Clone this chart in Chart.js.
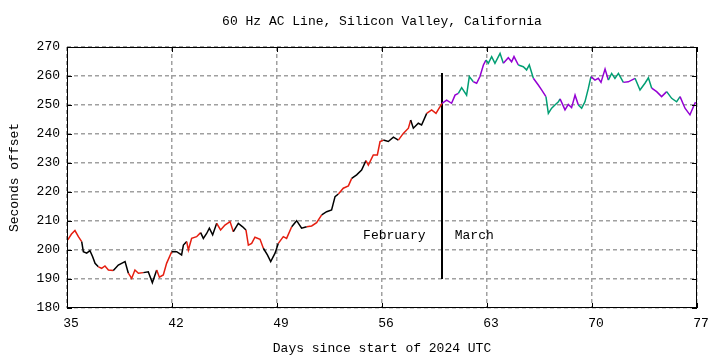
<!DOCTYPE html>
<html>
<head>
<meta charset="utf-8">
<title>60 Hz AC Line</title>
<script src="https://cdn.jsdelivr.net/npm/chart.js@4"></script>
<style>
  html, body { margin: 0; padding: 0; background: #fff; }
</style>
</head>
<body>
<canvas id="mycanvas" width="720" height="360"></canvas>
<script>
// Day of year (UTC) for each reading
var days = [
  35.05, 35.3, 35.53, 35.76, 35.98, 36.09, 36.31, 36.53, 36.71, 36.87,
  37.09, 37.31, 37.53, 37.76, 38.09, 38.42, 38.64, 38.87, 39.09, 39.31,
  39.53, 39.76, 40.09, 40.42, 40.69, 40.98, 41.16, 41.42, 41.64, 41.98,
  42.31, 42.64, 42.76, 42.98, 43.09, 43.31, 43.64, 43.91, 44.09, 44.31,
  44.49, 44.71, 44.98, 45.24, 45.53, 45.87, 46.09, 46.42, 46.71, 46.93,
  47.09, 47.31, 47.53, 47.87, 48.09, 48.36, 48.58, 48.87, 49.09, 49.42,
  49.64, 49.98, 50.31, 50.64, 50.98, 51.31, 51.64, 51.98, 52.31, 52.64,
  52.87, 53.09, 53.42, 53.76, 53.98, 54.31, 54.64, 54.93, 55.09, 55.42,
  55.69, 55.87, 56.09, 56.42, 56.76, 57.09, 57.42, 57.76, 57.91, 58.09,
  58.42, 58.64, 58.98, 59.31, 59.6, 59.87, 60.0, 60.31, 60.64, 60.87,
  61.09, 61.31, 61.64, 61.82, 62.09, 62.31, 62.53, 62.76, 62.93, 63.09,
  63.31, 63.53, 63.87, 64.09, 64.42, 64.64, 64.8, 65.09, 65.42, 65.64,
  65.82, 66.09, 66.42, 66.64, 66.93, 67.09, 67.31, 67.53, 67.76, 67.87,
  68.2, 68.42, 68.64, 68.87, 69.09, 69.31, 69.53, 69.76, 69.93, 70.2,
  70.42, 70.6, 70.87, 71.09, 71.31, 71.53, 71.76, 72.09, 72.42, 72.87,
  73.2, 73.53, 73.76, 73.98, 74.31, 74.64, 74.98, 75.31, 75.64, 75.87,
  76.2, 76.53, 76.76, 76.9
];
// Clock offset in seconds
var offsets = [
  203.5, 205.5, 206.7, 204.6, 202.9, 199.4, 198.9, 199.8, 197.7, 195.4,
  194.2, 193.7, 194.5, 193.1, 192.9, 194.8, 195.4, 196.0, 192.0, 190.2,
  193.1, 192.0, 192.2, 192.5, 188.7, 193.1, 190.6, 191.4, 195.4, 199.4,
  199.4, 198.3, 201.7, 202.9, 200.0, 204.0, 204.6, 206.0, 204.0, 205.7,
  207.5, 205.2, 209.2, 206.9, 208.6, 209.8, 206.3, 209.2, 208.0, 206.9,
  201.7, 202.3, 204.4, 203.7, 200.6, 198.3, 196.0, 198.9, 202.3, 204.6,
  204.0, 208.0, 210.1, 207.5, 208.0, 208.3, 209.4, 212.1, 213.2, 213.8,
  218.4, 219.3, 221.3, 222.1, 224.7, 225.9, 227.6, 230.8, 229.3, 232.8,
  232.8, 237.4, 237.9, 237.4, 238.9, 237.9, 240.2, 242.0, 244.8, 242.0,
  243.7, 243.1, 247.1, 248.3, 247.1, 249.4, 250.6, 251.7, 250.6, 253.4,
  254.0, 256.0, 253.4, 259.8, 258.0, 257.5, 259.8, 263.8, 265.5, 264.4,
  266.7, 264.4, 267.8, 264.4, 266.3, 264.9, 266.7, 263.8, 263.2, 262.1,
  263.8, 259.2, 256.9, 255.2, 252.9, 247.1, 248.9, 250.0, 251.1, 252.1,
  248.3, 250.2, 249.1, 253.4, 250.0, 248.9, 251.1, 255.8, 259.8, 258.6,
  259.2, 257.8, 262.4, 258.6, 260.9, 259.2, 260.9, 257.8, 258.0, 259.2,
  255.2, 257.5, 259.4, 255.8, 254.6, 252.9, 254.6, 252.3, 251.1, 252.9,
  248.9, 246.6, 249.4, 251.0
];
// Month boundary marker
var monthNames = ['February', 'March'];
var marchStart = 60;
var markerRange = [190, 261];
var chartTitle = '60 Hz AC Line, Silicon Valley, California';

var colors = {
  febOdd: '#e51e10', febEven: '#000000',
  marOdd: '#009e73', marEven: '#9400d3'
};
var FONT = "'Liberation Mono', 'DejaVu Sans Mono', monospace";

// colour alternates each day, different pair per month
function dayColor(d)
{
  var n = Math.floor(d);
  if (n < marchStart) return (n % 2) ? colors.febOdd : colors.febEven;
  return (n % 2) ? colors.marOdd : colors.marEven;
}

var points = [];
for (var i = 0; i < days.length; i++)
{
  points.push({x: days[i], y: offsets[i]});
}

Chart.defaults.font.family = FONT;
Chart.defaults.font.size = 13;
Chart.defaults.color = '#000';

// title over plot, frame, inward ticks and month labels
var framePlugin = {
  id: 'frame',
  afterDatasetsDraw: function(chart)
  {
    var ctx = chart.ctx, a = chart.chartArea;
    var xs = chart.scales.x, ys = chart.scales.y;
    ctx.save();
    ctx.strokeStyle = '#000';
    ctx.lineWidth = 1;
    ctx.strokeRect(a.left + 0.5, a.top + 0.5, a.right - a.left - 1, a.bottom - a.top - 1);
    ctx.beginPath();
    xs.ticks.forEach(function(t) {
      var px = Math.round(xs.getPixelForValue(t.value)) + 0.5;
      ctx.moveTo(px, a.bottom); ctx.lineTo(px, a.bottom - 5);
      ctx.moveTo(px, a.top); ctx.lineTo(px, a.top + 5);
    });
    ys.ticks.forEach(function(t) {
      var py = Math.round(ys.getPixelForValue(t.value)) + 0.5;
      ctx.moveTo(a.left, py); ctx.lineTo(a.left + 5, py);
      ctx.moveTo(a.right, py); ctx.lineTo(a.right - 5, py);
    });
    ctx.stroke();

    ctx.fillStyle = '#000';
    ctx.font = '13px ' + FONT;
    ctx.textBaseline = 'middle';
    ctx.textAlign = 'center';
    ctx.fillText(chartTitle, (a.left + a.right) / 2, 22);

    var ly = ys.getPixelForValue(205);
    ctx.textAlign = 'right';
    ctx.fillText(monthNames[0], xs.getPixelForValue(marchStart - 1.1), ly);
    ctx.textAlign = 'left';
    ctx.fillText(monthNames[1], xs.getPixelForValue(marchStart + 0.85), ly);
    ctx.restore();
  }
};

var ctx = document.getElementById('mycanvas');
var lineGraph = new Chart(ctx,
{
  type: 'line',
  data: {
    datasets: [
      {
        label: 'offset',
        data: points,
        borderWidth: 1.5,
        pointRadius: 0,
        fill: false,
        tension: 0,
        segment: {
          borderColor: function(c) { return dayColor((c.p0.parsed.x + c.p1.parsed.x) / 2); }
        }
      },
      {
        label: 'month',
        data: [{x: marchStart, y: markerRange[0]}, {x: marchStart, y: markerRange[1]}],
        borderColor: '#000',
        borderWidth: 2,
        pointRadius: 0,
        fill: false
      }
    ]
  },
  options: {
    responsive: false,
    animation: false,
    layout: { padding: { left: 0, right: 23, top: 47, bottom: 0 } },
    plugins: {
      legend: { display: false },
      tooltip: { enabled: false },
      title: { display: false }
    },
    scales: {
      x: {
        type: 'linear',
        min: 35,
        max: 77,
        ticks: { stepSize: 7, padding: 8, maxRotation: 0, labelOffset: 4 },
        grid: { color: '#a0a0a0', lineWidth: 1.5, drawTicks: false },
        border: { display: false, dash: [4, 3] },
        title: { display: true, text: 'Days since start of 2024 UTC', padding: 4 },
        afterFit: function(s) { s.height = 52; }
      },
      y: {
        min: 180,
        max: 270,
        ticks: { stepSize: 10, padding: 7 },
        grid: { color: '#a0a0a0', lineWidth: 1.5, drawTicks: false },
        border: { display: false, dash: [4, 3] },
        title: { display: true, text: 'Seconds offset', padding: 7 },
        afterFit: function(s) { s.width = 67; }
      }
    }
  },
  plugins: [framePlugin]
});
</script>
</body>
</html>
